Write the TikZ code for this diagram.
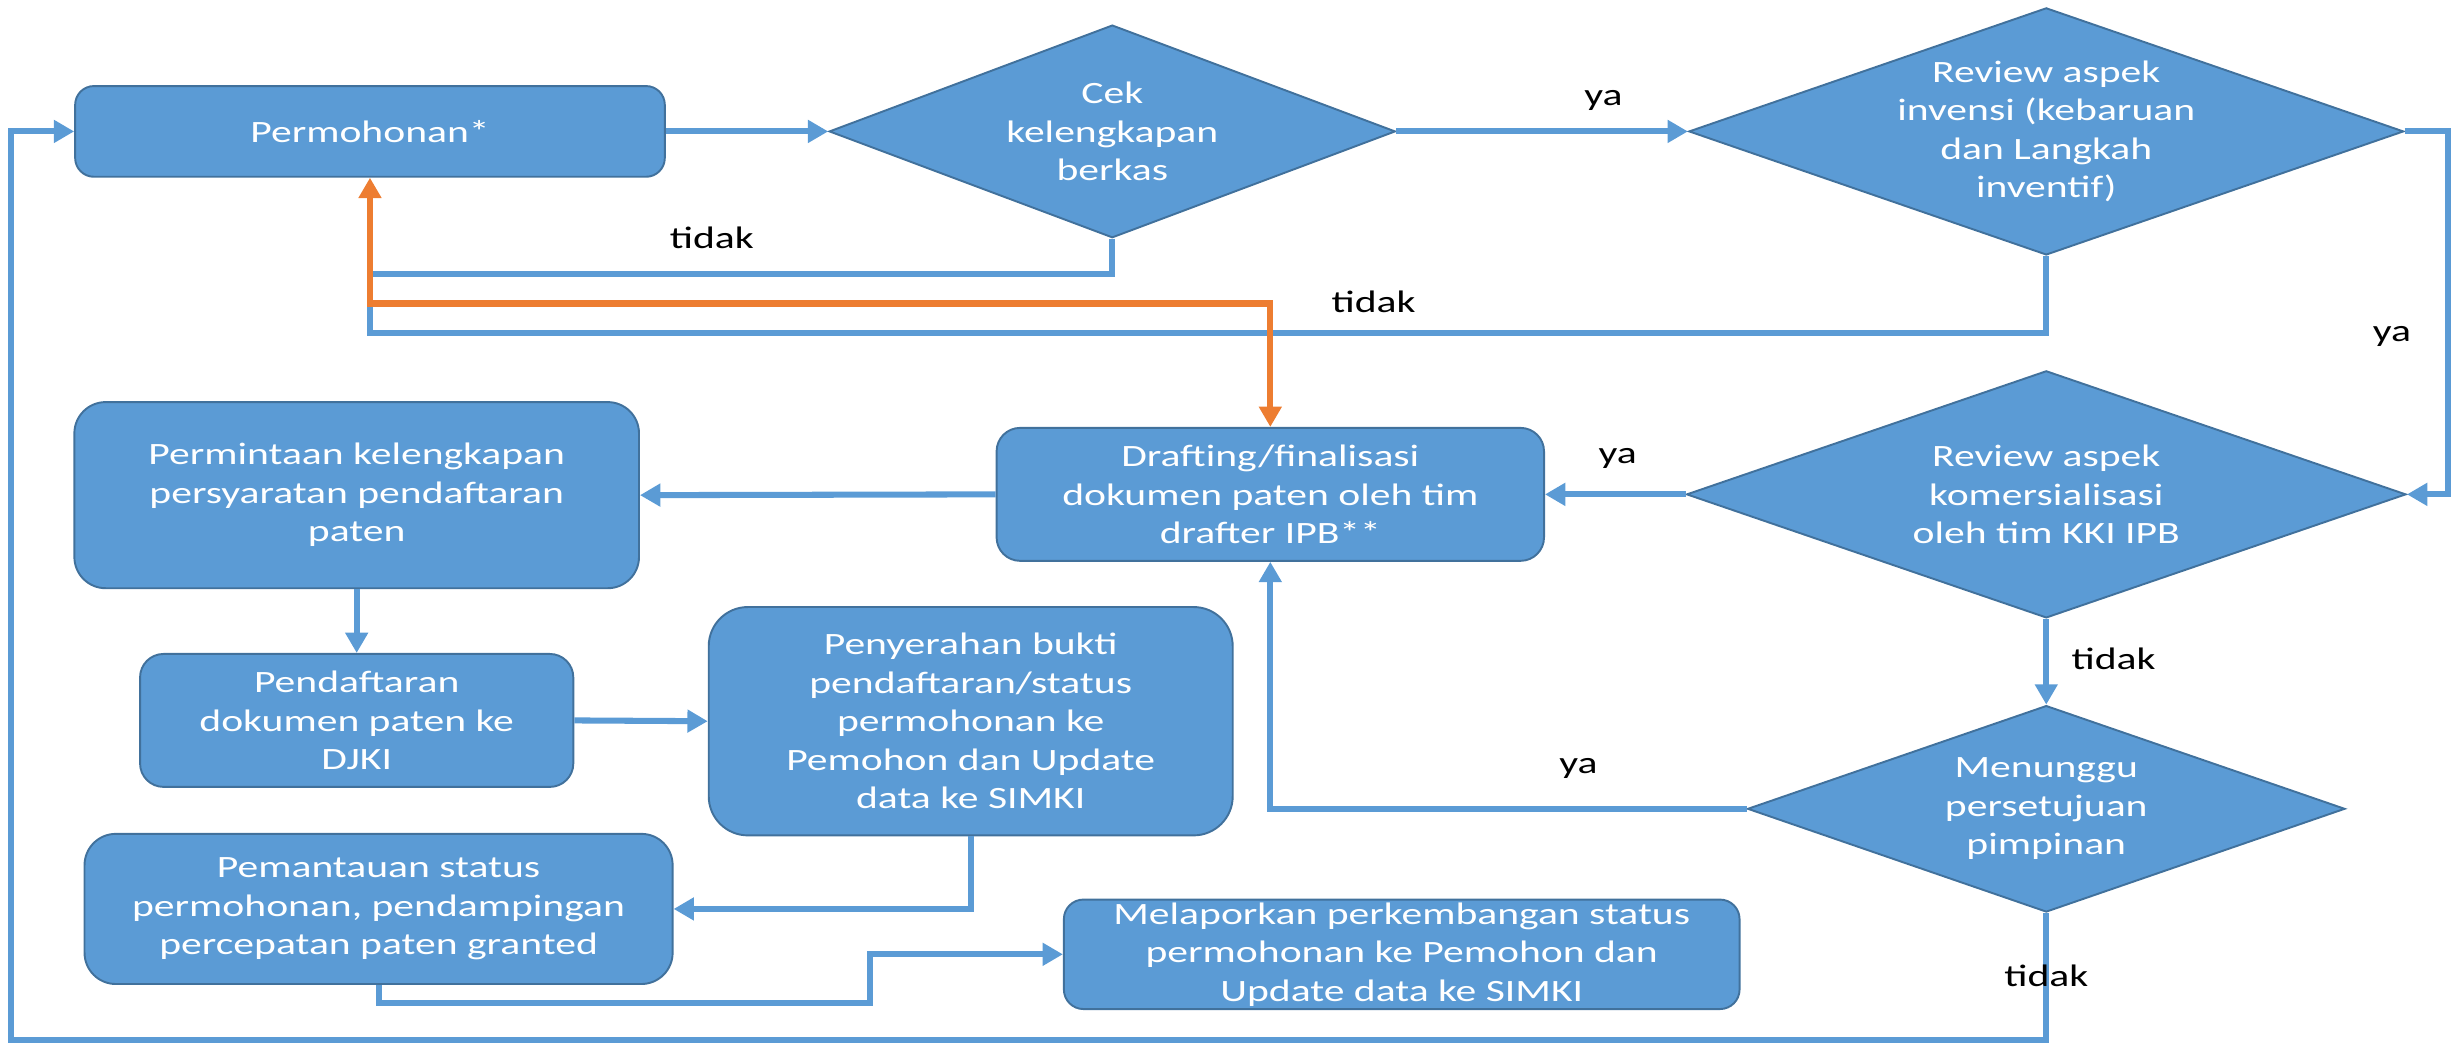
\documentclass[tikz,border=0pt]{standalone}
\usepackage{fontspec}
\setmainfont{Carlito}[FakeStretch=1.34]
\usetikzlibrary{shapes.geometric,arrows.meta}
\definecolor{boxc}{HTML}{5B9BD5}
\definecolor{bordc}{HTML}{41719C}
\definecolor{linec}{HTML}{5B9BD5}
\definecolor{orng}{HTML}{ED7D31}
\begin{document}
\begin{tikzpicture}[x=0.02cm,y=-0.02cm,
  font=\fontsize{11.3}{14}\selectfont,
  proc/.style={rectangle, draw=bordc, line width=0.7pt, fill=boxc, text=white, align=center, inner sep=0pt},
  dec/.style={diamond, draw=bordc, line width=0.7pt, fill=boxc, inner sep=0pt},
  dectext/.style={text=white, align=center, inner sep=0pt},
  flow/.style={draw=linec, line width=2.2pt},
  arr/.style={-{Triangle[length=2.6mm,width=2.8mm]}},
  orflow/.style={draw=orng, line width=2.2pt, {Triangle[length=2.6mm,width=2.8mm]}-{Triangle[length=2.6mm,width=2.8mm]}},
  lbl/.style={text=black, inner sep=0pt}]
\useasboundingbox (0,0) rectangle (1568,667);

% process boxes
\node[proc, minimum width=7.54cm, minimum height=1.16cm, rounded corners=0.24cm] (perm) at (236.5,84) {Permohonan*};
\node[proc, minimum width=7.22cm, minimum height=2.38cm, rounded corners=0.4cm] (minta) at (228,316.5) {Permintaan kelengkapan\\persyaratan pendaftaran\\paten};
\node[proc, minimum width=5.54cm, minimum height=1.7cm, rounded corners=0.3cm] (daftar) at (228,460.5) {Pendaftaran\\dokumen paten ke\\DJKI};
\node[proc, minimum width=6.7cm, minimum height=2.92cm, rounded corners=0.5cm] (serah) at (620.5,461) {Penyerahan bukti\\pendaftaran/status\\permohonan ke\\Pemohon dan Update\\data ke SIMKI};
\node[proc, minimum width=7.0cm, minimum height=1.7cm, rounded corners=0.3cm] (draft) at (812,316) {Drafting/finalisasi\\dokumen paten oleh tim\\drafter IPB**};
\node[proc, minimum width=7.52cm, minimum height=1.92cm, rounded corners=0.4cm] (pantau) at (242,581) {Pemantauan status\\permohonan, pendampingan\\percepatan paten granted};
\node[proc, minimum width=8.64cm, minimum height=1.4cm, rounded corners=0.25cm] (lapor) at (896,610) {Melaporkan perkembangan status\\permohonan ke Pemohon dan\\Update data ke SIMKI};

% decisions
\node[dec, minimum width=7.24cm, minimum height=2.72cm, label={[dectext]center:{Cek\\kelengkapan\\berkas}}] (cek) at (711,84) {};
\node[dec, minimum width=9.14cm, minimum height=3.16cm, label={[dectext]center:{Review aspek\\invensi (kebaruan\\dan Langkah\\inventif)}}] (rv1) at (1308,84) {};
\node[dec, minimum width=9.2cm, minimum height=3.16cm, label={[dectext]center:{Review aspek\\komersialisasi\\oleh tim KKI IPB}}] (rv2) at (1308,316) {};
\node[dec, minimum width=7.64cm, minimum height=2.64cm, label={[dectext]center:{Menunggu\\persetujuan\\pimpinan}}] (men) at (1308,517) {};

% routing points
\coordinate (rj) at (1565,84);
\coordinate (j1) at (236.5,175);
\coordinate (j2) at (236.5,213);
\coordinate (j3) at (236.5,194);
\coordinate (o1) at (812,194);
\coordinate (p1) at (556,641);
\coordinate (lb) at (7,665);

% connectors
\draw[flow, arr] (perm.east) -- (cek.west);
\draw[flow, arr] (cek.east) -- (rv1.west);
\draw[flow, arr] (rv1.east) -- (rj) |- (rv2.east);
\draw[flow, arr] (rv2.west) -- (draft.east);
\draw[flow, arr] (rv2.south) -- (men.north);
\draw[flow, arr] (men.west) -| (draft.south);
\draw[flow, arr] (draft.west) -- (minta.east);
\draw[flow, arr] (minta.south) -- (daftar.north);
\draw[flow, arr] (daftar.east) -- (serah.west);
\draw[flow, arr] (serah.south) |- (pantau.east);
\draw[flow, arr] (pantau.south) |- (p1) |- (lapor.west);
\draw[flow, arr] (men.south) |- (lb) |- (perm.west);
\draw[flow] (cek.south) |- (j1);
\draw[flow] (rv1.south) |- (j2) -- (j3);
\draw[orflow] (perm.south) |- (o1) -- (draft.north);

% branch labels
\node[lbl] (l1) at (455,152) {tidak};
\node[lbl] (l2) at (1025,64) {ya};
\node[lbl] (l3) at (878,193) {tidak};
\node[lbl] (l4) at (1529,215) {ya};
\node[lbl] (l5) at (1034,293) {ya};
\node[lbl] (l6) at (1351,421) {tidak};
\node[lbl] (l7) at (1009,491) {ya};
\node[lbl] (l8) at (1308,624) {tidak};
\end{tikzpicture}
\end{document}
